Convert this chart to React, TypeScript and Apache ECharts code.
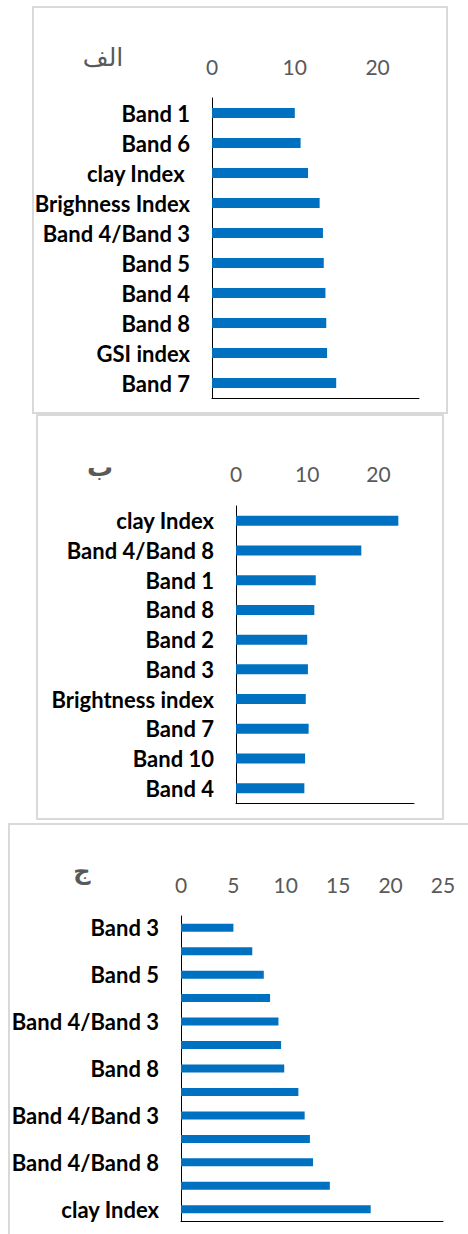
import React, { useEffect, useRef } from "react";
import * as echarts from "echarts";

const titleA = "الف";
const titleB = "ب";
const titleC = "ج";

const categoriesA = ["Band 1", "Band 6", "clay Index ", "Brighness Index", "Band 4/Band 3", "Band 5", "Band 4", "Band 8", "GSI index", "Band 7"];
const valuesA = [10.0, 10.7, 11.6, 13.0, 13.4, 13.5, 13.7, 13.8, 13.9, 15.0];

const categoriesB = ["clay Index", "Band 4/Band 8", "Band 1", "Band 8", "Band 2", "Band 3", "Brightness index", "Band 7", "Band 10", "Band 4"];
const valuesB = [22.8, 17.6, 11.2, 11.0, 10.0, 10.1, 9.8, 10.2, 9.7, 9.6];

const categoriesC = ["Band 3", "", "Band 5", "", "Band 4/Band 3", "", "Band 8", "", "Band 4/Band 3", "", "Band 4/Band 8", "", "clay Index"];
const valuesC = [5.0, 6.8, 7.9, 8.5, 9.3, 9.55, 9.85, 11.2, 11.8, 12.3, 12.6, 14.2, 18.1];

const ticksAB = { min: 0, max: 25, interval: 10 };
const ticksC = { min: 0, max: 25, interval: 5 };

const BLUE = "#0070C0";
const GRAY = "#595959";
const FONT = "Lato, 'Open Sans', sans-serif";

export default function App() {
  const ref = useRef<HTMLDivElement>(null);
  useEffect(() => {
    if (!ref.current) return;
    const chart = echarts.init(ref.current, null, { renderer: "svg" });

    const grids = [
      { left: 212, top: 98, width: 207, height: 300 },
      { left: 236, top: 506, width: 178, height: 297 },
      { left: 181, top: 916, width: 262, height: 305 },
    ];
    const panels = [
      { cats: categoriesA, vals: valuesA, ticks: ticksAB, bw: 10, showMax: false, margin: 21 },
      { cats: categoriesB, vals: valuesB, ticks: ticksAB, bw: 10, showMax: false, margin: 22 },
      { cats: categoriesC, vals: valuesC, ticks: ticksC, bw: 8, showMax: true, margin: 21 },
    ];

    const xAxis: any[] = [];
    const yAxis: any[] = [];
    const series: any[] = [];
    panels.forEach((p, i) => {
      xAxis.push({
        type: "value",
        gridIndex: i,
        position: "top",
        min: p.ticks.min,
        max: p.ticks.max,
        interval: p.ticks.interval,
        axisLine: { show: false },
        axisTick: { show: false },
        splitLine: { show: false },
        axisLabel: {
          color: GRAY,
          fontSize: 21,
          fontFamily: FONT,
          margin: p.margin,
          showMaxLabel: p.showMax,
        },
      });
      xAxis.push({
        type: "value",
        gridIndex: i,
        position: "bottom",
        min: p.ticks.min,
        max: p.ticks.max,
        axisLine: { show: true, lineStyle: { color: "#000", width: 1 } },
        axisTick: { show: false },
        splitLine: { show: false },
        axisLabel: { show: false },
      });
      yAxis.push({
        type: "category",
        gridIndex: i,
        inverse: true,
        data: p.cats,
        axisLine: { show: true, lineStyle: { color: "#000", width: 1 } },
        axisTick: { show: false },
        axisLabel: {
          interval: 0,
          color: "#000",
          fontSize: 22,
          fontWeight: "bold",
          fontFamily: FONT,
          margin: 22,
        },
      });
      series.push({
        type: "bar",
        xAxisIndex: i * 2,
        yAxisIndex: i,
        data: p.vals,
        barWidth: p.bw,
        itemStyle: { color: BLUE },
      });
    });

    const graphic: any[] = [
      { type: "rect", shape: { x: 33, y: 7, width: 414, height: 406 }, style: { fill: "none", stroke: "#d9d9d9", lineWidth: 2 }, silent: true },
      { type: "rect", shape: { x: 37, y: 415, width: 406, height: 404 }, style: { fill: "none", stroke: "#d9d9d9", lineWidth: 2 }, silent: true },
      { type: "rect", shape: { x: 9, y: 824, width: 480, height: 430 }, style: { fill: "none", stroke: "#d9d9d9", lineWidth: 2 }, silent: true },
      { type: "text", x: 103, y: 57, style: { text: titleA, fill: GRAY, fontSize: 25, fontFamily: "'DejaVu Serif', 'DejaVu Sans', serif", align: "center", verticalAlign: "middle" } },
      { type: "text", x: 100, y: 467, style: { text: titleB, fill: GRAY, fontSize: 26, fontWeight: "bold", fontFamily: "'DejaVu Serif', 'DejaVu Sans', serif", align: "center", verticalAlign: "middle" } },
      { type: "text", x: 82, y: 870, style: { text: titleC, fill: GRAY, fontSize: 24, fontWeight: "bold", fontFamily: "'DejaVu Serif', 'DejaVu Sans', serif", align: "center", verticalAlign: "middle" } },
    ];

    chart.setOption({
      animation: false,
      backgroundColor: "#fff",
      grid: grids.map((g) => ({ ...g, containLabel: false })),
      xAxis,
      yAxis,
      series,
      graphic,
    });
    return () => chart.dispose();
  }, []);

  return (
    <div
      ref={ref}
      style={{ position: "absolute", left: 0, top: 0, width: 468, height: 1234 }}
    />
  );
}
